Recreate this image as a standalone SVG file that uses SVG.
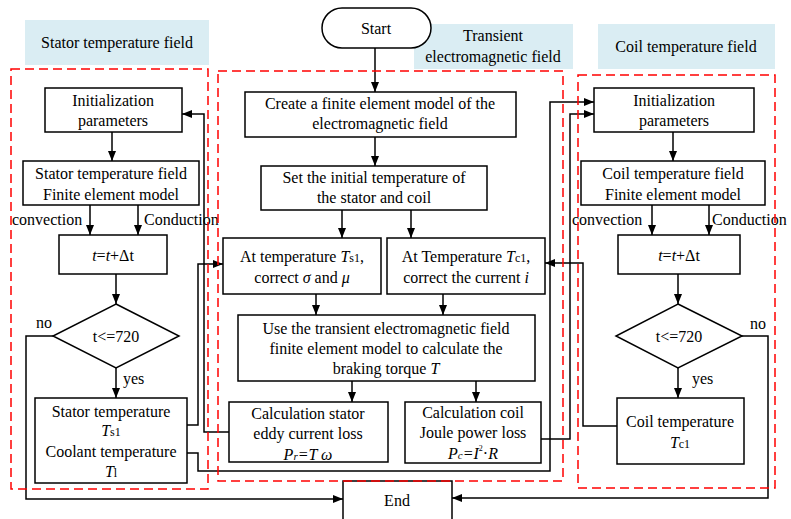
<svg xmlns="http://www.w3.org/2000/svg" width="791" height="519" viewBox="0 0 791 519" font-family="Liberation Serif" font-size="16">
<defs>
<marker id="ah" markerUnits="userSpaceOnUse" markerWidth="11" markerHeight="8" refX="10" refY="4" orient="auto">
<path d="M0,0 L10,4 L0,8 z" fill="#000"/>
</marker>
</defs>

<g id="labels">
<rect fill="#daedf3" x="25" y="20" width="184" height="45"/>
<text font-family="Liberation Serif" font-size="16" text-anchor="middle" x="117" y="48">Stator temperature field</text>
<rect fill="#daedf3" x="414" y="24" width="159" height="45"/>
<text font-family="Liberation Serif" font-size="16" text-anchor="middle" x="493" y="41">Transient</text>
<text font-family="Liberation Serif" font-size="16" text-anchor="middle" x="493" y="62">electromagnetic field</text>
<rect fill="#daedf3" x="598" y="24" width="177" height="45"/>
<text font-family="Liberation Serif" font-size="16" text-anchor="middle" x="686" y="52">Coil temperature field</text>
</g>

<g id="start">
<rect fill="#fff" stroke="#000" stroke-width="1.5" x="322" y="8" width="109" height="40" rx="20"/>
<text font-family="Liberation Serif" font-size="16" text-anchor="middle" x="376" y="34">Start</text>
</g>

<g id="create">
<rect fill="#fff" stroke="#000" stroke-width="1.5" x="245" y="92" width="271" height="45"/>
<text font-family="Liberation Serif" font-size="16" text-anchor="middle" x="380" y="109">Create a finite element model of the</text>
<text font-family="Liberation Serif" font-size="16" text-anchor="middle" x="380" y="129">electromagnetic field</text>
</g>

<g id="set">
<rect fill="#fff" stroke="#000" stroke-width="1.5" x="261" y="166" width="226" height="44"/>
<text font-family="Liberation Serif" font-size="16" text-anchor="middle" x="374" y="183">Set the initial temperature of</text>
<text font-family="Liberation Serif" font-size="16" text-anchor="middle" x="374" y="203">the stator and coil</text>
</g>

<g id="atTs1">
<rect fill="#fff" stroke="#000" stroke-width="1.5" x="223" y="238" width="158" height="56"/>
<text font-family="Liberation Serif" font-size="16" text-anchor="middle" x="302" y="262">At temperature <tspan font-style="italic">T</tspan><tspan font-size="12">s1</tspan>,</text>
<text font-family="Liberation Serif" font-size="16" text-anchor="middle" x="302" y="283">correct <tspan font-style="italic">σ</tspan> and <tspan font-style="italic">μ</tspan></text>
</g>

<g id="atTc1">
<rect fill="#fff" stroke="#000" stroke-width="1.5" x="387" y="238" width="158" height="56"/>
<text font-family="Liberation Serif" font-size="16" text-anchor="middle" x="466" y="262">At Temperature <tspan font-style="italic">T</tspan><tspan font-size="12">c1</tspan>,</text>
<text font-family="Liberation Serif" font-size="16" text-anchor="middle" x="466" y="283">correct the current <tspan font-style="italic">i</tspan></text>
</g>

<g id="use">
<rect fill="#fff" stroke="#000" stroke-width="1.5" x="238" y="315" width="297" height="66"/>
<text font-family="Liberation Serif" font-size="16" text-anchor="middle" x="386" y="334">Use the transient electromagnetic field</text>
<text font-family="Liberation Serif" font-size="16" text-anchor="middle" x="386" y="354">finite element model to calculate the</text>
<text font-family="Liberation Serif" font-size="16" text-anchor="middle" x="386" y="374">braking torque <tspan font-style="italic">T</tspan></text>
</g>

<g id="statorCalc">
<rect fill="#fff" stroke="#000" stroke-width="1.5" x="229" y="402" width="159" height="60"/>
<text font-family="Liberation Serif" font-size="16" text-anchor="middle" x="308" y="419">Calculation stator</text>
<text font-family="Liberation Serif" font-size="16" text-anchor="middle" x="308" y="439">eddy current loss</text>
<text font-family="Liberation Serif" font-size="16" text-anchor="middle" font-style="italic" x="308" y="460">P<tspan font-size="11">r</tspan>=T ω</text>
</g>

<g id="coilCalc">
<rect fill="#fff" stroke="#000" stroke-width="1.5" x="405" y="402" width="136" height="61"/>
<text font-family="Liberation Serif" font-size="16" text-anchor="middle" x="473" y="418">Calculation coil</text>
<text font-family="Liberation Serif" font-size="16" text-anchor="middle" x="473" y="438">Joule power loss</text>
<text font-family="Liberation Serif" font-size="16" text-anchor="middle" x="473" y="459"><tspan font-style="italic">P</tspan><tspan font-style="italic" font-size="11">c</tspan><tspan font-style="italic">=I</tspan><tspan font-size="8" dy="-8">2</tspan><tspan dy="8">·</tspan><tspan font-style="italic">R</tspan></text>
</g>

<g id="end">
<path fill="#fff" stroke="#000" stroke-width="1.5" d="M343,525 V481 H452 V525"/>
<text font-family="Liberation Serif" font-size="16" text-anchor="middle" x="397" y="506">End</text>
</g>

<g id="sInit">
<rect fill="#fff" stroke="#000" stroke-width="1.5" x="45" y="88" width="137" height="44"/>
<text font-family="Liberation Serif" font-size="16" text-anchor="middle" x="113" y="106">Initialization</text>
<text font-family="Liberation Serif" font-size="16" text-anchor="middle" x="113" y="126">parameters</text>
</g>
<g id="sFE">
<rect fill="#fff" stroke="#000" stroke-width="1.5" x="23" y="161" width="176" height="44"/>
<text font-family="Liberation Serif" font-size="16" text-anchor="middle" x="111" y="179">Stator temperature field</text>
<text font-family="Liberation Serif" font-size="16" text-anchor="middle" x="111" y="200">Finite element model</text>
</g>
<g id="sT">
<rect fill="#fff" stroke="#000" stroke-width="1.5" x="59" y="235" width="108" height="39"/>
<text font-family="Liberation Serif" font-size="16" text-anchor="middle" x="113" y="261"><tspan font-style="italic">t</tspan>=<tspan font-style="italic">t</tspan>+Δt</text>
</g>
<g id="sDia">
<polygon fill="#fff" stroke="#000" stroke-width="1.5" points="116,304 179,336 116,368 53,336"/>
<text font-family="Liberation Serif" font-size="16" text-anchor="middle" x="116" y="342">t&lt;=720</text>
</g>
<g id="sTemp">
<rect fill="#fff" stroke="#000" stroke-width="1.5" x="35" y="398" width="152" height="85"/>
<text font-family="Liberation Serif" font-size="16" text-anchor="middle" x="111" y="417">Stator temperature</text>
<text font-family="Liberation Serif" font-size="16" text-anchor="middle" x="111" y="436"><tspan font-style="italic">T</tspan><tspan font-size="12">s1</tspan></text>
<text font-family="Liberation Serif" font-size="16" text-anchor="middle" x="111" y="457">Coolant temperature</text>
<text font-family="Liberation Serif" font-size="16" text-anchor="middle" x="111" y="477"><tspan font-style="italic">T</tspan><tspan font-size="12">l</tspan></text>
</g>

<g id="cInit">
<rect fill="#fff" stroke="#000" stroke-width="1.5" x="594" y="88" width="160" height="44"/>
<text font-family="Liberation Serif" font-size="16" text-anchor="middle" x="674" y="106">Initialization</text>
<text font-family="Liberation Serif" font-size="16" text-anchor="middle" x="674" y="126">parameters</text>
</g>
<g id="cFE">
<rect fill="#fff" stroke="#000" stroke-width="1.5" x="581" y="161" width="184" height="44"/>
<text font-family="Liberation Serif" font-size="16" text-anchor="middle" x="673" y="179">Coil temperature field</text>
<text font-family="Liberation Serif" font-size="16" text-anchor="middle" x="673" y="200">Finite element model</text>
</g>
<g id="cT">
<rect fill="#fff" stroke="#000" stroke-width="1.5" x="618" y="235" width="122" height="39"/>
<text font-family="Liberation Serif" font-size="16" text-anchor="middle" x="679" y="261"><tspan font-style="italic">t</tspan>=<tspan font-style="italic">t</tspan>+Δt</text>
</g>
<g id="cDia">
<polygon fill="#fff" stroke="#000" stroke-width="1.5" points="678,304 742,336 678,368 616,336"/>
<text font-family="Liberation Serif" font-size="16" text-anchor="middle" x="679" y="342">t&lt;=720</text>
</g>
<g id="cTemp">
<rect fill="#fff" stroke="#000" stroke-width="1.5" x="617" y="398" width="127" height="66"/>
<text font-family="Liberation Serif" font-size="16" text-anchor="middle" x="680" y="427">Coil temperature</text>
<text font-family="Liberation Serif" font-size="16" text-anchor="middle" x="680" y="448"><tspan font-style="italic">T</tspan><tspan font-size="12">c1</tspan></text>
</g>

<g id="edgeLabels">
<text font-family="Liberation Serif" font-size="16" x="12" y="225">convection</text>
<text font-family="Liberation Serif" font-size="16" x="144" y="225">Conduction</text>
<text font-family="Liberation Serif" font-size="16" x="36" y="328">no</text>
<text font-family="Liberation Serif" font-size="16" x="123" y="384">yes</text>
<text font-family="Liberation Serif" font-size="16" x="572" y="225">convection</text>
<text font-family="Liberation Serif" font-size="16" x="712" y="225">Conduction</text>
<text font-family="Liberation Serif" font-size="16" x="750" y="329">no</text>
<text font-family="Liberation Serif" font-size="16" x="692" y="384">yes</text>
</g>

<g id="connectors" fill="none" stroke="#000" stroke-width="1.5" marker-end="url(#ah)">
<path d="M375,48 V92"/>
<path d="M375,137 V166"/>
<path d="M342,210 V238"/>
<path d="M411,210 V238"/>
<path d="M316,294 V315"/>
<path d="M443,294 V315"/>
<path d="M352,381 V402"/>
<path d="M476,381 V402"/>
<path d="M112,132 V161"/>
<path d="M90,205 V235"/>
<path d="M138,205 V235"/>
<path d="M116,274 V304"/>
<path d="M116,368 V398"/>
<path d="M53,336 H26 V499 H343"/>
<path d="M187,425 H198 V264 H223"/>
<path d="M229,432 H204 V114 H182"/>
<path d="M187,453 H198 V471 H550 V102 H594"/>
<path d="M541,439 H570 V114 H594"/>
<path d="M617,426 H583 V263 H545"/>
<path d="M673,132 V161"/>
<path d="M652,205 V235"/>
<path d="M709,205 V235"/>
<path d="M678,274 V304"/>
<path d="M678,368 V398"/>
<path d="M742,336 H768 V498 H452"/>
</g>

<g id="regions" fill="none" stroke="#f00" stroke-width="1.5" stroke-dasharray="9,5">
<rect x="11" y="69" width="197" height="420"/>
<rect x="218" y="71" width="345" height="410"/>
<rect x="578" y="75" width="197" height="413"/>
</g>
</svg>
